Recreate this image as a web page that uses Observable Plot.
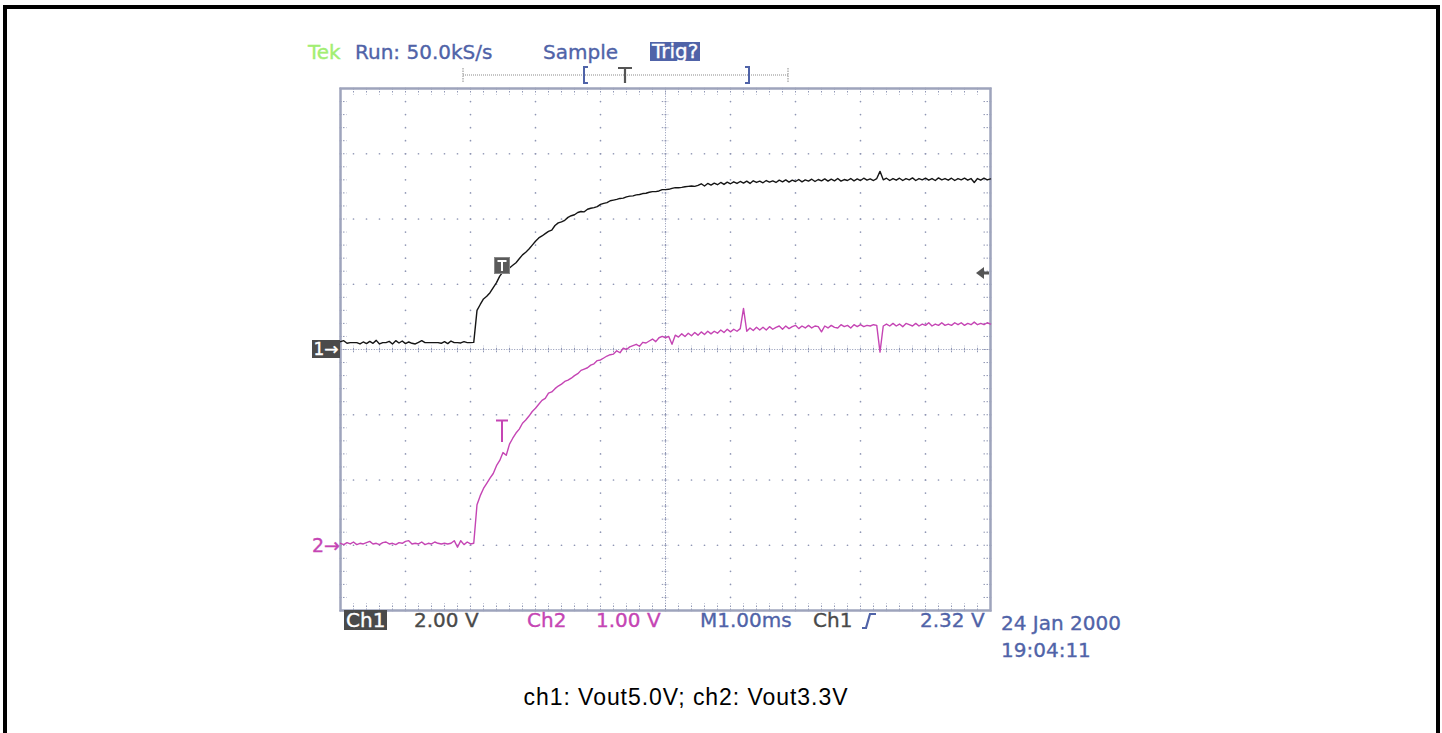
<!DOCTYPE html>
<html><head><meta charset="utf-8">
<script src="https://cdn.jsdelivr.net/npm/d3@7"></script>
<script src="https://cdn.jsdelivr.net/npm/@observablehq/plot@0.6"></script>
<style>
html,body{margin:0;padding:0;background:#fff;}
#wrap{position:relative;width:1442px;height:733px;overflow:hidden;font-family:"DejaVu Sans",sans-serif;}
.frame{position:absolute;left:3px;top:5px;width:1429px;height:760px;border:4px solid #000;box-sizing:content-box;}
.lbl{position:absolute;white-space:nowrap;font-size:20px;line-height:20px;height:20px;-webkit-text-stroke:0.35px currentColor;}
svg.shape{position:absolute;overflow:visible;}
</style></head><body><div id="wrap"><div class="frame"></div></div>
<script>
// ---- scope settings ----
const ch1Scale = 2;      // V/div
const ch2Scale = 1;      // V/div
const ch1Offset = 0;     // ground marker, divisions from centre
const ch2Offset = -3;
const msPerDiv = 1;      // M1.00ms
const sampleStep = 0.05; // ms between samples
const trigTime = 2.49;   // ms
const trigLevel = 2.32;  // V (Ch1)

// ---- header / footer texts ----
const headerTexts = ["Tek", "Run: 50.0kS/s", "Sample", "Trig?"];
const footerTexts = ["Ch1", "2.00 V", "Ch2", "1.00 V", "M1.00ms", "Ch1", "2.32 V"];
const dateTexts = ["24 Jan 2000", "19:04:11"];
const caption = "ch1: Vout5.0V; ch2: Vout3.3V";

// ---- Ch1 samples (V), every 0.05 ms from 0 to 10 ms ----
const ch1V = [
0.24,0.27,0.19,0.21,0.21,0.21,0.17,0.23,0.18,0.25,
0.19,0.28,0.17,0.21,0.21,0.25,0.17,0.27,0.20,0.26,
0.18,0.23,0.19,0.17,0.22,0.27,0.21,0.21,0.21,0.21,
0.21,0.19,0.24,0.18,0.26,0.21,0.21,0.20,0.24,0.21,
0.21,0.22,1.20,1.38,1.55,1.63,1.74,1.90,2.05,2.25,
2.38,2.45,2.50,2.58,2.66,2.78,2.90,2.98,3.08,3.20,
3.32,3.42,3.48,3.55,3.62,3.66,3.80,3.88,3.91,3.96,
4.05,4.10,4.13,4.20,4.23,4.22,4.30,4.33,4.35,4.38,
4.45,4.48,4.50,4.56,4.58,4.60,4.63,4.64,4.68,4.70,
4.71,4.74,4.75,4.78,4.79,4.82,4.84,4.84,4.86,4.90,
4.90,4.91,4.94,4.96,4.96,4.97,4.99,5.00,5.01,5.00,
5.03,5.08,5.01,5.09,5.04,5.10,5.05,5.12,5.06,5.13,
5.08,5.14,5.09,5.15,5.10,5.16,5.09,5.17,5.12,5.16,
5.11,5.18,5.13,5.17,5.12,5.19,5.14,5.20,5.13,5.19,
5.15,5.21,5.14,5.20,5.16,5.22,5.15,5.21,5.17,5.23,
5.16,5.22,5.17,5.24,5.16,5.21,5.18,5.24,5.17,5.23,
5.18,5.25,5.19,5.23,5.18,5.24,5.46,5.20,5.25,5.18,
5.24,5.19,5.25,5.18,5.24,5.20,5.26,5.18,5.24,5.20,
5.25,5.19,5.24,5.18,5.26,5.20,5.24,5.19,5.25,5.18,
5.24,5.20,5.25,5.19,5.24,5.12,5.24,5.19,5.25,5.20,
5.23
];

// ---- Ch2 samples (V) ----
const ch2V = [
0.03,0.01,0.04,0.02,0.05,0.01,0.03,0.02,0.04,0.06,
0.02,0.03,0.01,0.04,0.05,0.02,0.03,0.01,0.04,0.03,
0.06,0.07,0.02,0.03,0.02,0.05,0.01,0.03,0.02,0.05,
0.03,0.02,0.03,0.02,0.03,0.07,-0.03,0.07,0.01,0.05,
0.02,0.03,0.62,0.76,0.87,0.95,1.03,1.10,1.22,1.30,
1.42,1.38,1.55,1.64,1.72,1.78,1.87,1.92,1.98,2.05,
2.10,2.16,2.22,2.25,2.33,2.35,2.40,2.44,2.47,2.51,
2.53,2.56,2.60,2.63,2.68,2.70,2.72,2.76,2.78,2.83,
2.84,2.87,2.90,2.92,2.93,2.98,2.95,3.02,3.00,3.04,
3.06,3.08,3.05,3.11,3.10,3.13,3.16,3.12,3.18,3.20,
3.18,3.20,3.08,3.22,3.19,3.24,3.20,3.25,3.21,3.26,
3.22,3.27,3.23,3.28,3.24,3.28,3.25,3.30,3.26,3.31,
3.27,3.31,3.28,3.32,3.63,3.28,3.33,3.29,3.34,3.30,
3.34,3.30,3.35,3.31,3.34,3.36,3.31,3.36,3.32,3.35,
3.37,3.32,3.36,3.33,3.37,3.33,3.36,3.35,3.27,3.36,
3.33,3.37,3.34,3.33,3.38,3.35,3.37,3.33,3.38,3.35,
3.38,3.35,3.37,3.36,3.38,3.37,2.96,3.36,3.39,3.36,
3.40,3.36,3.39,3.35,3.40,3.38,3.36,3.40,3.36,3.39,
3.37,3.41,3.36,3.39,3.37,3.41,3.37,3.39,3.37,3.41,
3.38,3.41,3.37,3.40,3.38,3.42,3.38,3.40,3.38,3.41,
3.39
];

// ---- colours ----
const gridColor = "#8f96b4";
const frameColor = "#9ea4bc";
const blue = "#5063a8";
const magenta = "#c545b4";
const dark = "#4a4a4a";
const tekGreen = "#a2ee72";

// ---- build tables ----
const ch1 = ch1V.map((v, i) => ({t: i * sampleStep, div: v / ch1Scale + ch1Offset}));
const ch2 = ch2V.map((v, i) => ({t: i * sampleStep, div: v / ch2Scale + ch2Offset}));

const majorX = d3.range(0, 11);
const majorY = d3.range(-4, 5);
const fineX = d3.range(0, 51).map(i => i / 5);
const fineY = d3.range(0, 41).map(i => -4 + i / 5);
const gridDots = [];
for (const gx of majorX) for (const fy of fineY) gridDots.push({x: gx, y: fy});
for (const gy of majorY) for (const fx of fineX) gridDots.push({x: fx, y: gy});

const W = 1442, H = 733;
const plot = Plot.plot({
  width: W, height: H,
  marginLeft: 340, marginRight: 452, marginTop: 88, marginBottom: 123,
  x: {domain: [0, 10 * msPerDiv], axis: null},
  y: {domain: [-4, 4], axis: null},
  style: {background: "transparent", overflow: "visible"},
  marks: [
    Plot.dot(gridDots, {x: "x", y: "y", r: 0.85, fill: gridColor}),
    Plot.ruleY([0], {stroke: gridColor, strokeDasharray: "1,1.6"}),
    Plot.ruleX([5], {stroke: gridColor, strokeDasharray: "1,1.6"}),
    Plot.ruleX(fineX, {y1: -0.05, y2: 0.05, stroke: gridColor, strokeDasharray: "1.5,1.5"}),
    Plot.ruleY(fineY, {x1: 4.95, x2: 5.05, stroke: gridColor, strokeDasharray: "1.5,1.5"}),
    Plot.ruleX(fineX, {y1: 4, y2: 3.9, stroke: gridColor, strokeDasharray: "1.5,1.5"}),
    Plot.ruleX(fineX, {y1: -4, y2: -3.9, stroke: gridColor, strokeDasharray: "1.5,1.5"}),
    Plot.ruleY(fineY, {x1: 0, x2: 0.1, stroke: gridColor, strokeDasharray: "1.5,1.5"}),
    Plot.ruleY(fineY, {x1: 9.9, x2: 10, stroke: gridColor, strokeDasharray: "1.5,1.5"}),
    Plot.frame({stroke: frameColor, strokeWidth: 2.5}),
    Plot.line(ch2, {x: "t", y: "div", stroke: magenta, strokeWidth: 1.4}),
    Plot.line(ch1, {x: "t", y: "div", stroke: "#151515", strokeWidth: 1.4})
  ]
});
plot.style.position = "absolute";
plot.style.left = "0px";
plot.style.top = "0px";
const wrap = document.getElementById("wrap");
wrap.appendChild(plot);

const xs = plot.scale("x"), ys = plot.scale("y");
const X = v => xs.apply(v), Y = v => ys.apply(v);

function lbl(text, left, cy, color, extra) {
  const d = document.createElement("div");
  d.className = "lbl";
  d.textContent = text;
  d.style.left = left + "px";
  d.style.top = (cy - 10) + "px";
  d.style.color = color;
  if (extra) Object.assign(d.style, extra);
  wrap.appendChild(d);
  return d;
}
function shape(left, top, w, h, inner) {
  const ns = "http://www.w3.org/2000/svg";
  const s = document.createElementNS(ns, "svg");
  s.setAttribute("class", "shape");
  s.setAttribute("width", w); s.setAttribute("height", h);
  s.style.left = left + "px"; s.style.top = top + "px";
  s.innerHTML = inner;
  wrap.appendChild(s);
}

// header
lbl(headerTexts[0], 308, 52, tekGreen);
lbl(headerTexts[1], 355, 52, blue);
lbl(headerTexts[2], 543, 52, blue);
lbl(headerTexts[3], 650, 52, "#fff", {background: blue, height: "19px", lineHeight: "19px", padding: "0 2px"});

// record bar
shape(460, 66, 332, 18,
  `<line x1="3" y1="9" x2="328" y2="9" stroke="#8a8a8a" stroke-dasharray="1,1"/>
   <line x1="3" y1="2" x2="3" y2="16" stroke="#8a8a8a" stroke-dasharray="1.5,1"/>
   <line x1="328" y1="2" x2="328" y2="16" stroke="#8a8a8a" stroke-dasharray="1.5,1"/>
   <path d="M128 1 H124 V17 H128" fill="none" stroke="${blue}" stroke-width="2"/>
   <path d="M285 1 H289 V17 H285" fill="none" stroke="${blue}" stroke-width="2"/>
   <path d="M158 2 H172 M165 2 V17" fill="none" stroke="#555" stroke-width="2.2"/>`);

// footer
lbl(footerTexts[0], 344, 620, "#fff", {background: dark, padding: "0 2px"});
lbl(footerTexts[1], 414, 620, dark);
lbl(footerTexts[2], 527, 620, magenta);
lbl(footerTexts[3], 596, 620, magenta);
lbl(footerTexts[4], 700, 620, blue);
lbl(footerTexts[5], 813, 620, dark);
shape(861, 611, 18, 20, `<path d="M1 17 H5 L9 3 H15" fill="none" stroke="${blue}" stroke-width="2.2"/>`);
lbl(footerTexts[6], 920, 620, blue);
lbl(dateTexts[0], 1001, 623, blue);
lbl(dateTexts[1], 1001, 650, blue);

// ground markers
const g1 = Y(ch1Offset), g2 = Y(ch2Offset);
lbl("1→", 312, g1, "#fff", {background: dark, fontSize: "17px", width: "28px", height: "18px", lineHeight: "18px", top: (g1 - 9) + "px", textAlign: "center"});
lbl("2→", 312, g2, magenta, {fontSize: "19px"});

// trigger level arrow (right side)
const yTrig = Y(trigLevel / ch1Scale + ch1Offset);
shape(X(10) - 14, yTrig - 7, 14, 14, `<polygon points="0,7 8,1 8,13" fill="#555"/><rect x="7" y="5.5" width="6" height="3" fill="#555"/>`);

// trigger markers on traces
const xT = X(trigTime);
shape(xT - 8, yTrig - 16, 16, 17, `<rect x="0.5" y="0.5" width="15" height="16" fill="#5a5a5a" stroke="#888"/><path d="M3.5 4 H12.5 M8 4 V14" stroke="#fff" stroke-width="2"/>`);
const iT = Math.round(trigTime / sampleStep);
const y2T = Y(ch2V[iT] / ch2Scale + ch2Offset);
shape(xT - 7, y2T - 33, 14, 24, `<path d="M1 1.5 H13 M7 1.5 V23" fill="none" stroke="${magenta}" stroke-width="2"/>`);

// caption
const cap = document.createElement("div");
cap.textContent = caption;
Object.assign(cap.style, {position: "absolute", left: "0px", width: "1372px", top: "684px", textAlign: "center",
  fontFamily: "'Liberation Sans', Arial, sans-serif", fontSize: "23px", lineHeight: "26px", color: "#000", letterSpacing: "0.95px"});
wrap.appendChild(cap);
</script></body></html>
